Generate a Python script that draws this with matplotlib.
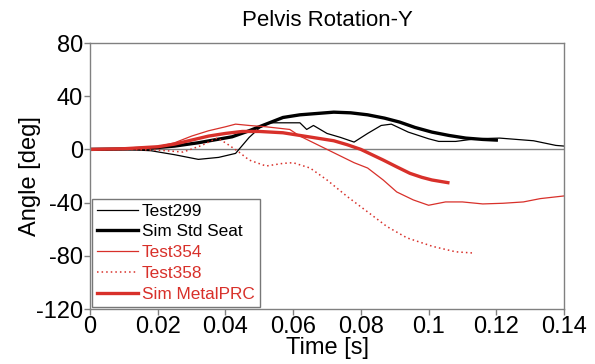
import matplotlib
matplotlib.use("Agg")
import matplotlib.pyplot as plt

plt.rcParams['font.family'] = ['Liberation Sans', 'DejaVu Sans']
plt.rcParams['axes.unicode_minus'] = False

RED = '#d8302a'

# Test299 (physical test, standard seat)
t299 = [0.0, 0.010, 0.018, 0.025, 0.032, 0.038, 0.043, 0.047, 0.050, 0.053, 0.057,
        0.062, 0.064, 0.066, 0.070, 0.074, 0.078, 0.082, 0.086, 0.089, 0.094,
        0.100, 0.103, 0.108, 0.114, 0.121, 0.131, 0.1376, 0.140]
a299 = [0.0, 0.0, -1.0, -4.0, -7.5, -6.0, -3.0, 9.0, 16.0, 20.0, 20.0,
        20.0, 15.0, 18.0, 12.0, 9.0, 5.5, 12.0, 18.0, 19.0, 13.0,
        8.0, 6.0, 6.0, 8.0, 8.5, 6.5, 3.0, 2.5]

# Simulation, standard seat
t_std = [0.0, 0.010, 0.018, 0.025, 0.032, 0.042, 0.047, 0.052, 0.057, 0.062,
         0.067, 0.072, 0.077, 0.082, 0.087, 0.0915, 0.096, 0.101, 0.106, 0.111, 0.116, 0.120]
a_std = [0.0, 0.3, 1.0, 2.5, 5.0, 9.5, 14.0, 19.0, 24.0, 26.0,
         27.0, 28.0, 27.5, 26.0, 23.5, 20.5, 16.5, 13.0, 10.5, 8.5, 7.5, 7.0]

# Test354 (physical test, metal PRC seat)
t354 = [0.0, 0.010, 0.015, 0.020, 0.025, 0.030, 0.035, 0.040, 0.043, 0.047, 0.052,
        0.059, 0.062, 0.066, 0.070, 0.074, 0.078, 0.082, 0.0866, 0.0906, 0.0955,
        0.100, 0.105, 0.110, 0.116, 0.122, 0.128, 0.133, 0.140]
a354 = [0.0, 0.3, 1.0, 2.0, 5.0, 10.0, 14.0, 17.0, 19.0, 18.0, 17.0,
        15.0, 10.0, 5.0, 0.0, -5.0, -10.0, -14.0, -23.0, -32.0, -38.0,
        -42.0, -39.5, -39.5, -41.0, -40.5, -39.5, -37.0, -35.0]

# Test358 (physical test, metal PRC seat)
t358 = [0.0, 0.010, 0.020, 0.0275, 0.033, 0.0375, 0.040, 0.044, 0.047, 0.052,
        0.057, 0.060, 0.065, 0.070, 0.076, 0.082, 0.0877, 0.0936, 0.1013, 0.108, 0.1137]
a358 = [0.0, 0.0, -0.5, -2.0, 3.0, 8.5, 5.0, -2.0, -8.0, -12.5,
        -10.5, -10.0, -14.0, -23.0, -35.5, -47.0, -58.0, -66.5, -73.0, -77.0, -78.0]

# Simulation, metal PRC seat
t_prc = [0.0, 0.010, 0.020, 0.025, 0.030, 0.035, 0.040, 0.045, 0.050, 0.057, 0.062,
         0.067, 0.072, 0.076, 0.080, 0.0866, 0.0905, 0.0945, 0.098, 0.101, 0.1057]
a_prc = [0.0, 0.5, 2.0, 4.0, 7.0, 10.0, 12.0, 13.5, 13.5, 12.5, 10.5,
         8.5, 6.5, 3.5, 0.0, -8.0, -13.0, -18.0, -21.0, -23.0, -25.0]

x_ticks = [0, 0.02, 0.04, 0.06, 0.08, 0.1, 0.12, 0.14]
x_labels = ['0', '0.02', '0.04', '0.06', '0.08', '0.1', '0.12', '0.14']
y_ticks = [-120, -80, -40, 0, 40, 80]

fig = plt.figure(figsize=(5.95, 3.64), dpi=100)
ax = fig.add_axes([90 / 595, 1 - 309 / 364, 474 / 595, 266 / 364])

ax.axhline(0, color='#808080', lw=1.0, zorder=1)

ax.plot(t299, a299, color='black', lw=0.9, label='Test299')
ax.plot(t_std, a_std, color='black', lw=2.4, label='Sim Std Seat')
ax.plot(t354, a354, color=RED, lw=0.9, label='Test354')
ax.plot(t358, a358, color=RED, lw=1.1, linestyle=(0, (1, 2)), label='Test358')
ax.plot(t_prc, a_prc, color=RED, lw=2.4, label='Sim MetalPRC')

ax.set_xlim(0, 0.14)
ax.set_ylim(-120, 80)
ax.set_xticks(x_ticks)
ax.set_xticklabels(x_labels)
ax.set_yticks(y_ticks)
ax.tick_params(direction='out', length=4, width=1, color='#808080',
               labelsize=17, pad=1)
for sp in ax.spines.values():
    sp.set_color('#808080')
    sp.set_linewidth(1.0)

ax.set_title('Pelvis Rotation-Y', fontsize=16, pad=12)
ax.set_xlabel('Time [s]', fontsize=17, labelpad=-1)
ax.set_ylabel('Angle [deg]', fontsize=17)
ax.yaxis.set_label_coords(-0.104, 0.5)

leg = ax.legend(loc='lower left', bbox_to_anchor=(0.004, 0.008), borderaxespad=0,
                fontsize=12.4, frameon=True, fancybox=False, handlelength=2.4,
                handletextpad=0.2, labelspacing=0.33, borderpad=0.3)
leg.get_frame().set_edgecolor('#555555')
leg.get_frame().set_linewidth(1.0)
for txt, col in zip(leg.get_texts(), ['black', 'black', RED, RED, RED]):
    txt.set_color(col)

fig.savefig('out.png', dpi=100)
